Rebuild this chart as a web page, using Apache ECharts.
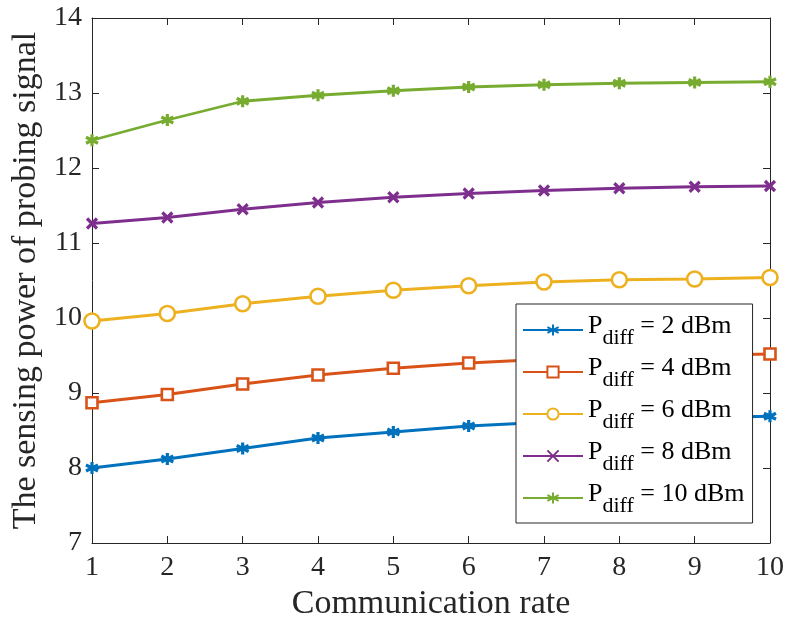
<!DOCTYPE html>
<html>
<head>
<meta charset="utf-8">
<script src="https://cdn.jsdelivr.net/npm/echarts@6/dist/echarts.min.js"></script>
<style>
  html, body { margin: 0; padding: 0; background: #fff; }
  #chart { width: 790px; height: 622px; }
</style>
</head>
<body>
<div id="chart"></div>
<script>
// data
let rates = [1, 2, 3, 4, 5, 6, 7, 8, 9, 10];
let pdiff2 = [8.00, 8.12, 8.26, 8.40, 8.48, 8.56, 8.61, 8.64, 8.67, 8.69];
let pdiff4 = [8.87, 8.98, 9.12, 9.24, 9.33, 9.40, 9.45, 9.48, 9.50, 9.52];
let pdiff6 = [9.96, 10.06, 10.19, 10.29, 10.37, 10.43, 10.48, 10.51, 10.52, 10.54];
let pdiff8 = [11.26, 11.34, 11.45, 11.54, 11.61, 11.66, 11.70, 11.73, 11.75, 11.76];
let pdiff10 = [12.37, 12.64, 12.89, 12.97, 13.03, 13.08, 13.11, 13.13, 13.14, 13.15];
let legendDbm = [2, 4, 6, 8, 10];

let chart = echarts.init(document.getElementById('chart'));
let serif = 'Liberation Serif';
let asterisk = 'path://M0,-5L0,5M-4.33,-2.5L4.33,2.5M-4.33,2.5L4.33,-2.5';
let cross = 'path://M-4,-4L4,4M-4,4L4,-4';

function pairs(arr) {
    return rates.map(function (r, i) { return [r, arr[i]]; });
}

function makeSeries(name, data, color, symbol, size, hollow, bw) {
    return {
        name: name,
        type: 'line',
        data: pairs(data),
        color: color,
        symbol: symbol,
        symbolSize: size,
        showSymbol: true,
        lineStyle: { width: 2.8, color: color },
        itemStyle: {
            color: hollow ? '#fff' : color,
            borderColor: color,
            borderWidth: bw
        },
        emphasis: { disabled: true },
        animation: false
    };
}

let names = legendDbm.map(function (d) { return 'P' + d; });
let lineColors = ['#0072BD', '#D95319', '#EDB120', '#7E2F8E', '#77AC30'];

let option = {
    grid: { left: 92, right: 20, top: 18, bottom: 79, outerBoundsMode: 'none' },
    legend: {
        left: 516,
        top: 304,
        width: 238,
        orient: 'vertical',
        itemWidth: 60,
        itemHeight: 14,
        itemGap: 6,
        padding: [9, 8, 6, 6],
        backgroundColor: '#fff',
        borderColor: '#262626',
        borderWidth: 1,
        data: names,
        formatter: function (name) {
            let d = name.slice(1);
            return '{p|P}{sub|diff}{p| = ' + d + ' dBm}';
        },
        textStyle: {
            fontFamily: serif,
            color: '#000',
            rich: {
                p: { fontSize: 26, fontFamily: serif, color: '#000', lineHeight: 34, verticalAlign: 'top' },
                sub: { fontSize: 22, fontFamily: serif, color: '#000', lineHeight: 34, padding: [14, 0, 0, 0], verticalAlign: 'top' }
            }
        }
    },
    xAxis: [{
        type: 'value',
        min: 1,
        max: 10,
        interval: 1,
        name: 'Communication rate',
        nameLocation: 'middle',
        nameGap: 40,
        nameTextStyle: { fontFamily: serif, fontSize: 34, color: '#262626' },
        axisLine: { lineStyle: { color: '#262626', width: 1 } },
        axisTick: { inside: true, length: 7, lineStyle: { color: '#262626' } },
        axisLabel: { fontFamily: serif, fontSize: 28, color: '#262626', margin: 11 },
        splitLine: { show: false }
    }, {
        type: 'value',
        position: 'top',
        min: 1,
        max: 10,
        interval: 1,
        axisLine: { show: true, lineStyle: { color: '#262626', width: 1 } },
        axisTick: { inside: true, length: 7, lineStyle: { color: '#262626' } },
        axisLabel: { show: false },
        splitLine: { show: false }
    }],
    yAxis: [{
        type: 'value',
        min: 7,
        max: 14,
        interval: 1,
        name: 'The sensing power of probing signal',
        nameLocation: 'middle',
        nameGap: 45,
        nameTextStyle: { fontFamily: serif, fontSize: 34, color: '#262626' },
        axisLine: { show: true, lineStyle: { color: '#262626', width: 1 } },
        axisTick: { show: true, inside: true, length: 7, lineStyle: { color: '#262626' } },
        axisLabel: { fontFamily: serif, fontSize: 28, color: '#262626', margin: 10 },
        splitLine: { show: false }
    }, {
        type: 'value',
        position: 'right',
        min: 7,
        max: 14,
        interval: 1,
        axisLine: { show: true, lineStyle: { color: '#262626', width: 1 } },
        axisTick: { show: true, inside: true, length: 7, lineStyle: { color: '#262626' } },
        axisLabel: { show: false },
        splitLine: { show: false }
    }],
    series: [
        makeSeries(names[0], pdiff2, lineColors[0], asterisk, 12, false, 3.2),
        makeSeries(names[1], pdiff4, lineColors[1], 'rect', 11, true, 2.6),
        makeSeries(names[2], pdiff6, lineColors[2], 'circle', 15, true, 2.6),
        makeSeries(names[3], pdiff8, lineColors[3], cross, 10, false, 3.2),
        makeSeries(names[4], pdiff10, lineColors[4], asterisk, 12, false, 3.2)
    ],
    animation: false
};

chart.setOption(option);
window.addEventListener('resize', function () { chart.resize(); });
</script>
</body>
</html>
